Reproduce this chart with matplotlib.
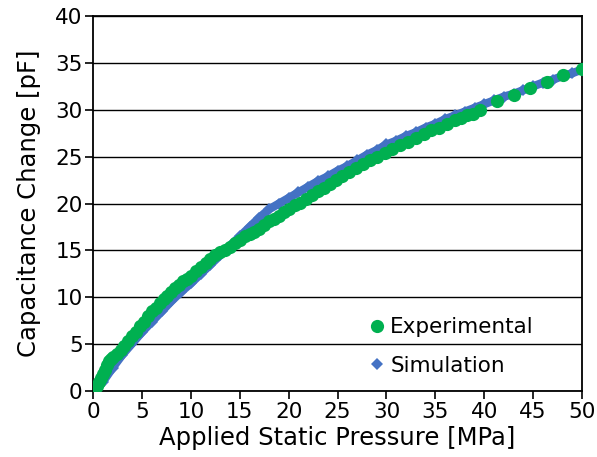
import matplotlib
matplotlib.use("Agg")
import matplotlib.pyplot as plt
from matplotlib.lines import Line2D

# Measured capacitance change vs applied static pressure
exp_pressure = [0.0, 0.2, 0.4, 0.6, 0.8, 1.0, 1.2, 1.4, 1.6, 1.8, 2.0, 2.4, 2.8, 3.2, 3.6,
                4.0, 4.4, 4.8, 5.2, 5.6, 6.0, 6.4, 6.8, 7.2, 7.6, 8.0, 8.4, 8.8, 9.2, 9.6,
                10.0, 10.5, 11.0, 11.5, 12.0, 12.5, 13.0, 13.5, 14.0, 14.5, 15.0, 15.5,
                16.0, 16.5, 17.0, 17.5, 18.0, 18.5, 19.0, 19.5, 20.0, 20.6, 21.2, 21.8,
                22.4, 23.0, 23.6, 24.2, 24.8, 25.5, 26.2, 26.9, 27.6, 28.3, 29.0, 29.8,
                30.6, 31.4, 32.2, 33.0, 33.8, 34.6, 35.4, 36.2, 37.0, 37.6, 38.2, 38.8,
                39.6, 41.3, 43.0, 44.7, 46.4, 48.1, 50.0]
exp_capacitance = [0.0, 0.3, 0.6, 1.0, 1.4, 1.8, 2.3, 2.8, 3.2, 3.4, 3.6, 4.0, 4.4, 4.8, 5.3,
                   5.9, 6.3, 6.9, 7.4, 8.0, 8.6, 8.9, 9.4, 9.8, 10.2, 10.6, 11.0, 11.3, 11.7,
                   12.0, 12.3, 12.8, 13.2, 13.7, 14.1, 14.5, 14.8, 15.1, 15.4, 15.8, 16.1,
                   16.5, 16.8, 17.0, 17.3, 17.7, 18.1, 18.4, 18.7, 19.1, 19.4, 19.8, 20.1,
                   20.5, 20.9, 21.3, 21.7, 22.1, 22.5, 22.9, 23.4, 23.8, 24.2, 24.6, 25.0,
                   25.4, 25.8, 26.2, 26.6, 27.0, 27.4, 27.8, 28.1, 28.5, 28.9, 29.1, 29.4,
                   29.6, 30.0, 30.9, 31.6, 32.3, 33.0, 33.7, 34.4]

# Simulated response, 1 MPa steps
sim_pressure = list(range(0, 51))
sim_capacitance = [0.0, 1.0, 2.5, 3.9, 5.1, 6.3, 7.4, 8.5, 9.6, 10.6, 11.5, 12.5, 13.5,
                   14.5, 15.5, 16.5, 17.5, 18.5, 19.4, 20.0, 20.6, 21.2, 21.8, 22.4, 22.9,
                   23.5, 24.0, 24.6, 25.2, 25.7, 26.3, 26.7, 27.2, 27.6, 28.1, 28.5, 29.0,
                   29.4, 29.8, 30.2, 30.6, 31.0, 31.4, 31.7, 32.1, 32.5, 32.9, 33.2, 33.6,
                   33.9, 34.3]

x_ticks = list(range(0, 51, 5))
y_ticks = list(range(0, 41, 5))

GREEN = "#00B050"
BLUE = "#4472C4"

plt.rcParams["font.family"] = ["DejaVu Sans"]

fig = plt.figure(figsize=(5.97, 4.57), dpi=100)
ax = fig.add_axes([0.156, 0.144, 0.819, 0.821])

for y in y_ticks:
    ax.axhline(y, color="black", linewidth=1.0, zorder=1)

ax.plot(sim_pressure, sim_capacitance, color=BLUE, linewidth=6, marker="D",
        markersize=6, markeredgewidth=0, zorder=2)
ax.plot(exp_pressure, exp_capacitance, linestyle="none", marker="o", color=GREEN,
        markersize=9.5, markeredgewidth=0, zorder=3)

ax.set_xlim(0, 50)
ax.set_ylim(0, 40)
ax.set_xticks(x_ticks)
ax.set_yticks(y_ticks)
ax.tick_params(direction="out", length=5.5, width=1.2, labelsize=15.5, pad=2, colors="black")
for spine in ax.spines.values():
    spine.set_linewidth(1.3)
    spine.set_color("black")

ax.set_xlabel("Applied Static Pressure [MPa]", fontsize=17.5, labelpad=3)
ax.set_ylabel("Capacitance Change [pF]", fontsize=17.5, labelpad=10)

handles = [
    Line2D([0], [0], linestyle="none", marker="o", color=GREEN, markersize=9.5,
           markeredgewidth=0, label="Experimental"),
    Line2D([0], [0], linestyle="none", marker="D", color=BLUE, markersize=6.5,
           markeredgewidth=0, label="Simulation"),
]
ax.legend(handles=handles, loc="center left", bbox_to_anchor=(0.566, 0.119),
          frameon=False, fontsize=15.5, handlelength=0.7, handletextpad=0.25,
          labelspacing=0.85, borderpad=0, borderaxespad=0)

fig.savefig("out.png", dpi=100)
plt.close(fig)
